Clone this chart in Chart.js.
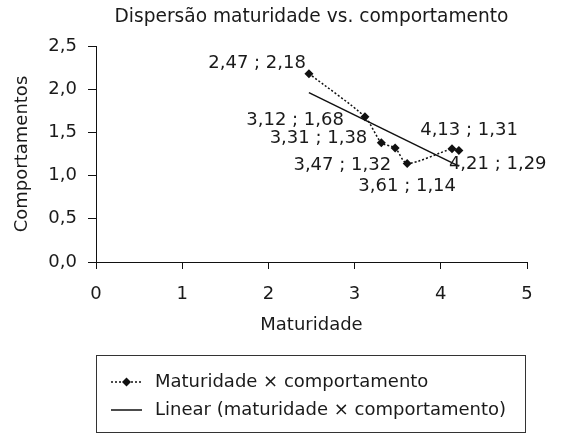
<!DOCTYPE html>
<html><head><meta charset="utf-8">
<script src="https://cdn.jsdelivr.net/npm/chart.js@4/dist/chart.umd.min.js"></script>
<style>html,body{margin:0;padding:0;background:#fff}#c{display:block}</style>
</head><body>
<canvas id="c" width="562" height="435"></canvas>
<script>
// ---- data ----
const maturidade = [2.47, 3.12, 3.31, 3.47, 3.61, 4.13, 4.21];
const comportamento = [2.18, 1.68, 1.38, 1.32, 1.14, 1.31, 1.29];
const trendX = [2.47, 4.21];
const trendY = [1.96, 1.11];
const xTicks = [0, 1, 2, 3, 4, 5];
const yTicks = [0, 0.5, 1, 1.5, 2, 2.5];
const seriesLabels = ['Maturidade × comportamento', 'Linear (maturidade × comportamento)'];
const chartTitle = 'Dispersão maturidade vs. comportamento';
const xTitle = 'Maturidade';
const yTitle = 'Comportamentos';

// ---- styles ----
const FONT = '"DejaVu Sans", "Liberation Sans", Arial, sans-serif';
const FS = 18;
const TXT = '#1a1a1a';
const labelPlacement = [
  {align: 'right', dx: -3, dy: -10},
  {align: 'right', dx: -21, dy: 3},
  {align: 'right', dx: -14, dy: -4},
  {align: 'right', dx: -4, dy: 17},
  {align: 'center', dx: 0, dy: 23},
  {align: 'center', dx: 17, dy: -18},
  {align: 'left', dx: -10, dy: 14}
];
const fmt = (v, d) => v.toFixed(d).replace('.', ',');

const pointsData = maturidade.map((x, i) => ({x, y: comportamento[i]}));
const trendData = trendX.map((x, i) => ({x, y: trendY[i]}));

const titlePlugin = {
  id: 'areaTitle',
  afterDraw(chart) {
    const ctx = chart.ctx, a = chart.chartArea;
    ctx.save();
    ctx.font = '18.6px ' + FONT;
    ctx.fillStyle = TXT;
    ctx.textAlign = 'center';
    ctx.textBaseline = 'middle';
    ctx.fillText(chartTitle, (a.left + a.right) / 2, 17);
    ctx.restore();
  }
};

const labelsPlugin = {
  id: 'pointLabels',
  afterDatasetsDraw(chart) {
    const ctx = chart.ctx;
    const meta = chart.getDatasetMeta(0);
    ctx.save();
    ctx.font = FS + 'px ' + FONT;
    ctx.fillStyle = TXT;
    ctx.textBaseline = 'middle';
    meta.data.forEach((pt, i) => {
      const p = labelPlacement[i];
      ctx.textAlign = p.align;
      ctx.fillText(fmt(maturidade[i], 2) + ' ; ' + fmt(comportamento[i], 2), pt.x + p.dx, pt.y + p.dy);
    });
    ctx.restore();
  }
};

const legendPlugin = {
  id: 'boxLegend',
  afterDraw(chart) {
    const ctx = chart.ctx;
    ctx.save();
    ctx.strokeStyle = '#333';
    ctx.lineWidth = 1;
    ctx.strokeRect(96.5, 355.5, 429, 77);
    const ds = chart.data.datasets;
    const rows = [382, 410];
    ds.forEach((d, i) => {
      const y = rows[i];
      ctx.strokeStyle = d.borderColor;
      ctx.lineWidth = d.borderWidth;
      ctx.setLineDash(d.borderDash || []);
      ctx.beginPath();
      ctx.moveTo(111, y); ctx.lineTo(142, y);
      ctx.stroke();
      ctx.setLineDash([]);
      if (d.pointRadius > 0) {
        ctx.fillStyle = d.pointBackgroundColor;
        const r = d.pointRadius;
        ctx.beginPath();
        ctx.moveTo(126.5, y - r); ctx.lineTo(126.5 + r, y);
        ctx.lineTo(126.5, y + r); ctx.lineTo(126.5 - r, y);
        ctx.closePath(); ctx.fill();
      }
      ctx.font = FS + 'px ' + FONT;
      ctx.fillStyle = TXT;
      ctx.textAlign = 'left';
      ctx.textBaseline = 'middle';
      ctx.fillText(d.label, 155, y);
    });
    ctx.restore();
  }
};

new Chart(document.getElementById('c'), {
  type: 'scatter',
  data: {
    datasets: [
      {
        label: seriesLabels[0],
        data: pointsData,
        showLine: true,
        tension: 0.25,
        borderColor: '#111',
        borderWidth: 1.5,
        borderDash: [2, 2],
        pointStyle: 'rectRot',
        pointRadius: 4.5,
        pointBackgroundColor: '#111',
        pointBorderColor: '#111',
        pointBorderWidth: 0,
        order: 1
      },
      {
        label: seriesLabels[1],
        data: trendData,
        showLine: true,
        tension: 0,
        borderColor: '#111',
        borderWidth: 1.5,
        pointRadius: 0,
        order: 2
      }
    ]
  },
  options: {
    responsive: false,
    animation: false,
    devicePixelRatio: 1,
    layout: {padding: {left: 0, right: 35, top: 46, bottom: 99}},
    plugins: {
      legend: {display: false},
      tooltip: {enabled: false},
      title: {display: false}
    },
    scales: {
      x: {
        type: 'linear',
        min: 0, max: 5,
        afterBuildTicks: s => { s.ticks = xTicks.map(v => ({value: v})); },
        afterFit: s => { s.height = 74; },
        ticks: {
          color: TXT,
          font: {family: FONT, size: FS},
          padding: 15,
          maxRotation: 0,
          callback: v => fmt(v, 0)
        },
        grid: {display: true, drawOnChartArea: false, drawTicks: true, tickLength: 7, color: '#111', lineWidth: 1},
        border: {display: true, color: '#111', width: 1},
        title: {display: true, text: xTitle, color: TXT, font: {family: FONT, size: FS}, padding: {top: 0, bottom: 0}}
      },
      y: {
        type: 'linear',
        min: 0, max: 2.5,
        afterBuildTicks: s => { s.ticks = yTicks.map(v => ({value: v})); },
        afterFit: s => { s.width = 96; },
        ticks: {
          color: TXT,
          font: {family: FONT, size: FS},
          padding: 11,
          callback: v => fmt(v, 1)
        },
        grid: {display: true, drawOnChartArea: false, drawTicks: true, tickLength: 8, color: '#111', lineWidth: 1},
        border: {display: true, color: '#111', width: 1},
        title: {display: true, text: yTitle, color: TXT, font: {family: FONT, size: FS}, padding: {top: 12, bottom: 0}}
      }
    }
  },
  plugins: [titlePlugin, labelsPlugin, legendPlugin]
});
</script>
</body></html>
